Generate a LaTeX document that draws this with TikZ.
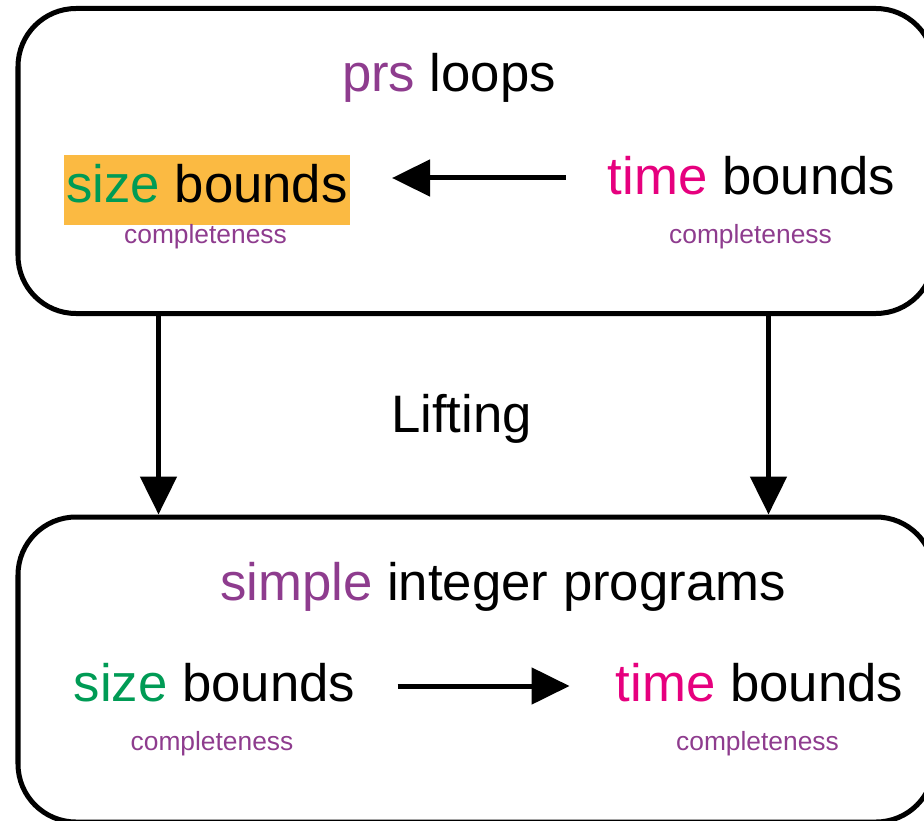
\documentclass[tikz,border=0pt]{standalone}
\usepackage{fontspec}
\setmainfont{Liberation Sans}
\usepackage{xcolor}
\usepackage{tikz}
\usetikzlibrary{arrows.meta,positioning,calc}
\definecolor{prspurple}{RGB}{142,60,142}
\definecolor{sizegreen}{RGB}{0,155,85}
\definecolor{timepink}{RGB}{230,0,126}
\definecolor{hlorange}{RGB}{251,186,66}

\begin{document}
\begin{tikzpicture}[
    frame/.style={draw, line width=0.1cm, rounded corners=1.16cm, minimum width=18.32cm, minimum height=6.1cm},
    bigword/.style={anchor=base, inner sep=0pt, font=\fontsize{30}{36}\selectfont},
    smallword/.style={anchor=base, inner sep=0pt, font=\fontsize{15}{18}\selectfont, text=prspurple},
    arr/.style={line width=0.1cm, -{Triangle[length=0.76cm, width=0.72cm]}},
]
    \useasboundingbox (0,0) rectangle (18.48,-16.4);

    % Boxes
    \node[frame] (loopsBox) at (9.52,-3.22) {};
    \node[frame] (progBox) at (9.52,-13.39) {};

    % prs loops
    \node[bigword] (prsTitle) at (8.98,-1.84) {\textcolor{prspurple}{prs} loops};
    \node[bigword, fill=hlorange, inner xsep=0.04cm, text height=0.96cm, text depth=0.44cm] (sizeTop) at (4.14,-4.06) {\textcolor{sizegreen}{size} bounds};
    \node[smallword] (cmpTopL) at (4.11,-4.86) {completeness};
    \node[bigword] (timeTop) at (15.03,-3.88) {\textcolor{timepink}{time} bounds};
    \node[smallword] (cmpTopR) at (15.01,-4.86) {completeness};

    % Lifting
    \node[bigword] (lift) at (9.23,-8.64) {Lifting};

    % simple integer programs
    \node[bigword] (progTitle) at (10.06,-12.0) {\textcolor{prspurple}{simple} integer programs};
    \node[bigword] (sizeBot) at (4.29,-14.02) {\textcolor{sizegreen}{size} bounds};
    \node[smallword] (cmpBotL) at (4.24,-15.0) {completeness};
    \node[bigword] (timeBot) at (15.19,-14.02) {\textcolor{timepink}{time} bounds};
    \node[smallword] (cmpBotR) at (15.15,-15.0) {completeness};

    % Arrows
    \coordinate (topLevel) at ([yshift=0.32cm]timeTop.base);
    \coordinate (botLevel) at ([yshift=0.30cm]sizeBot.base);
    \draw[arr, shorten <=0.84cm, shorten >=0.84cm] (timeTop.west |- topLevel) -- (sizeTop.east |- topLevel);
    \draw[arr, shorten <=0.84cm, shorten >=0.92cm] (sizeBot.east |- botLevel) -- (timeBot.west |- botLevel);
    \draw[arr] ([xshift=2.86cm]loopsBox.south west) -- ([xshift=2.86cm]progBox.north west);
    \draw[arr] ([xshift=15.06cm]loopsBox.south west) -- ([xshift=15.06cm]progBox.north west);
\end{tikzpicture}
\end{document}
